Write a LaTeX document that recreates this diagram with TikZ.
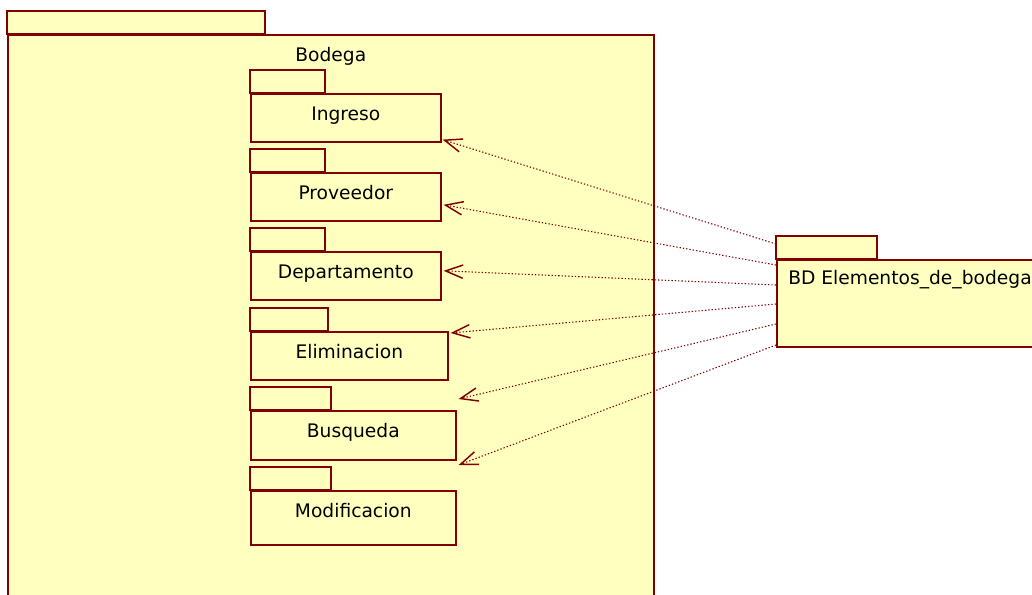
\documentclass[tikz,border=0pt]{standalone}
\usepackage{fontspec}
\setmainfont{DejaVu Sans}
\usetikzlibrary{arrows.meta, calc, positioning}
\definecolor{pkgfill}{RGB}{255,255,192}
\definecolor{pkgline}{RGB}{128,0,0}

\begin{document}
\begin{tikzpicture}[x=0.75pt, y=-0.75pt,
    pkg/.style={draw=pkgline, fill=pkgfill, line width=1.2pt},
    pkgbody/.style={pkg, rectangle, inner sep=0pt, anchor=north west},
    pkgtext/.style={font=\fontsize{14}{17}\selectfont, inner sep=0pt},
    dep/.style={draw=pkgline, line width=0.8pt, dash pattern=on 1pt off 1.5pt,
        -{Straight Barb[length=13pt, width=10pt, line width=1.1pt]}}]
    \useasboundingbox (0,0) rectangle (1032,594);
    \clip (0,0) rectangle (1032,594);

    % Bodega package (runs off the bottom)
    \node[pkgbody, minimum width=646*0.75pt, minimum height=570*0.75pt] (bodega) at (7,34) {};
    \draw[pkg] (bodega.north west) rectangle ++(258,-23);
    \node[pkgtext, anchor=base] (bodega-lbl) at ($(bodega.north)+(0,27)$) {Bodega};

    % inner packages
    \foreach \name/\top/\w/\h/\t/\lbl in {
        ingreso/93/190/48/75/Ingreso,
        proveedor/172/190/48/75/Proveedor,
        departamento/251/190/48/75/Departamento,
        eliminacion/331/197/48/78/Eliminacion,
        busqueda/410/205/49/81/Busqueda,
        modificacion/490/205/54/81/Modificacion} {
        \draw[pkg] (250,\top) rectangle ++(\t,-23);
        \node[pkgbody, line width=1.2pt, minimum width=\w*0.75pt, minimum height=\h*0.75pt] (\name) at (250,\top) {};
        \node[pkgtext, anchor=base] (\name-lbl) at ($(\name.north)+(0,27)$) {\lbl};
    }

    % database package
    \node[pkgbody, minimum width=270*0.75pt, minimum height=87*0.75pt] (bd) at (776,259) {};
    \draw[pkg] (bd.north west) rectangle ++(101,-23);
    \node[pkgtext, anchor=base west] (bd-lbl) at ($(bd.north west)+(12,25)$) {BD Elementos\_de\_bodega};

    % dependencies
    \draw[dep] ($(bd.north west)+(0,-15)$) -- ($(ingreso.south east)+(1,-3)$);
    \draw[dep] ($(bd.north west)+(0,6)$) -- ($(proveedor.east)+(2,8)$);
    \draw[dep] ($(bd.north west)+(0,26)$) -- ($(departamento.east)+(2,-5)$);
    \draw[dep] ($(bd.north west)+(0,45)$) -- ($(eliminacion.north east)+(2,2)$);
    \draw[dep] ($(bd.north west)+(0,65)$) -- ($(busqueda.north east)+(2,-11)$);
    \draw[dep] ($(bd.north west)+(0,86)$) -- ($(modificacion.north east)+(2,-25)$);
\end{tikzpicture}
\end{document}
